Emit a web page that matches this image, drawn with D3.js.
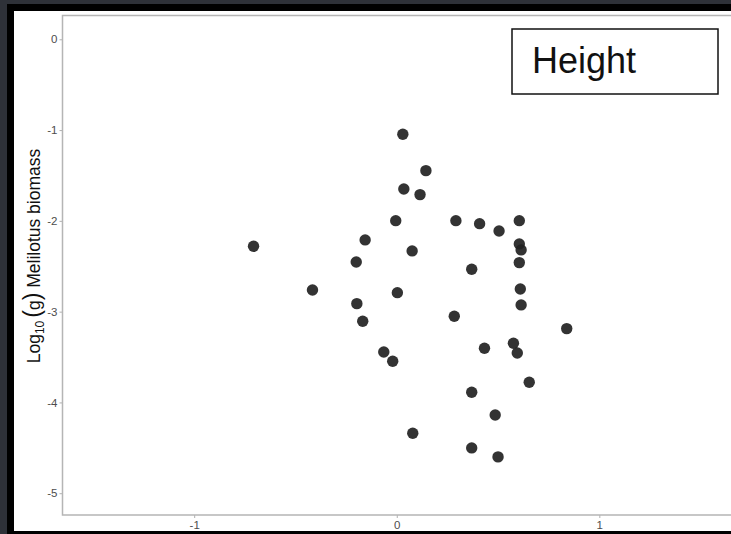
<!DOCTYPE html>
<html><head><meta charset="utf-8">
<script src="https://cdn.jsdelivr.net/npm/d3@7"></script>
<style>html,body{margin:0;padding:0;background:#2e3138;}svg{display:block;}</style>
</head><body>
<script>
// Data
const xValues = [0.030,0.144,0.035,0.115,-0.005,0.292,0.409,0.505,0.605,-0.707,-0.156,0.076,0.605,0.614,-0.200,0.370,0.605,-0.416,0.003,0.610,-0.197,0.614,-0.168,0.284,0.839,-0.064,-0.020,0.433,0.576,0.595,0.654,0.370,0.486,0.079,0.370,0.500];
const yValues = [-1.046,-1.447,-1.649,-1.711,-1.998,-1.998,-2.031,-2.111,-1.998,-2.280,-2.210,-2.331,-2.254,-2.320,-2.453,-2.533,-2.460,-2.761,-2.791,-2.750,-2.912,-2.926,-3.106,-3.051,-3.187,-3.444,-3.546,-3.403,-3.348,-3.455,-3.778,-3.888,-4.138,-4.339,-4.501,-4.600];
const xTicks = [-1, 0, 1];
const yTicks = [0, -1, -2, -3, -4, -5];
const panelLabel = "Height";

(function () {
const W = 731, H = 534;
const svg = d3.select("body").append("svg").attr("width", W).attr("height", H);

// screenshot frame
svg.append("rect").attr("x",0).attr("y",0).attr("width",W).attr("height",H).attr("fill","#2e3138");
svg.append("rect").attr("x",7).attr("y",4).attr("width",W-7).attr("height",H-4).attr("fill","#000");
svg.append("rect").attr("x",14).attr("y",11).attr("width",W-14).attr("height",520).attr("fill","#fff");

const pL = 62.5, pT = 15.5, pR = 731, pB = 515;
const x = d3.scaleLinear().domain([-1.65, 1.65]).range([pL, pR]);
const y = d3.scaleLinear().domain([-5.24, 0.262]).range([pB, pT]);
const fmt = d => String(d);

// axes
const yAxis = svg.append("g").attr("transform", `translate(${pL},0)`)
  .call(d3.axisLeft(y).tickValues(yTicks).tickSize(3).tickPadding(2).tickFormat(fmt));
const xAxis = svg.append("g").attr("transform", `translate(0,${pB})`)
  .call(d3.axisBottom(x).tickValues(xTicks).tickSize(3).tickPadding(3).tickFormat(fmt));
[xAxis, yAxis].forEach(a => {
  a.select(".domain").remove();
  a.selectAll("line").attr("stroke", "#b0b0b0").attr("stroke-width", 1);
  a.selectAll("text").attr("fill", "#4d4d4d").attr("font-family", "Liberation Sans, Arial, sans-serif").attr("font-size", 11.5);
});

// panel border
svg.append("rect").attr("x", pL).attr("y", pT).attr("width", pR - pL + 2).attr("height", pB - pT)
  .attr("fill", "none").attr("stroke", "#b5b5b5").attr("stroke-width", 1.5);

// points
svg.append("g").selectAll("circle").data(xValues.map((v,i)=>[v,yValues[i]])).join("circle")
  .attr("cx", d => x(d[0])).attr("cy", d => y(d[1])).attr("r", 5.7)
  .attr("fill", "#222").attr("fill-opacity", 0.92);

// y title
const yt = svg.append("text").attr("transform", "translate(40,256) rotate(-90)")
  .attr("text-anchor", "middle").attr("font-family", "Liberation Sans, Arial, sans-serif")
  .attr("font-size", 17.5).attr("fill", "#111");
yt.append("tspan").text("Log");
yt.append("tspan").attr("font-size", 12).attr("dy", 3.5).text("10");
yt.append("tspan").attr("dy", -3.5).attr("font-size", 23).attr("dx", 3).text("(");
yt.append("tspan").text("g");
yt.append("tspan").attr("font-size", 23).text(")");
yt.append("tspan").text(" Melilotus biomass");

// label box
svg.append("rect").attr("x", 512).attr("y", 29).attr("width", 206).attr("height", 65)
  .attr("fill", "#fff").attr("stroke", "#111").attr("stroke-width", 1.5);
svg.append("text").attr("x", 532).attr("y", 72.5).attr("font-family", "Liberation Sans, Arial, sans-serif")
  .attr("font-size", 36).attr("fill", "#111").text(panelLabel);
})();
</script>
</body></html>
